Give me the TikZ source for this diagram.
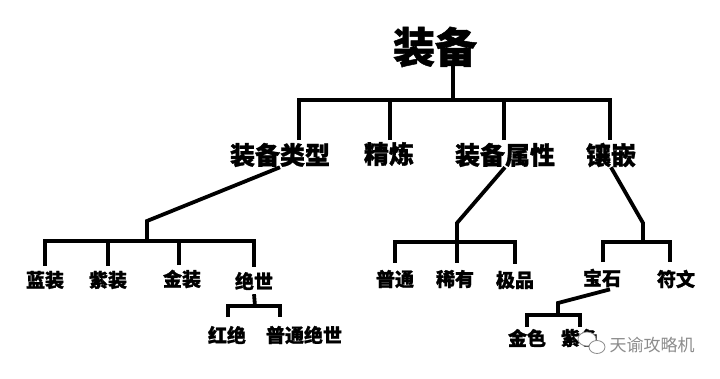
\documentclass[tikz,border=0pt]{standalone}
\usepackage{fontspec}
\newfontfamily\cjk{Noto Sans CJK SC}[BoldFeatures={FakeBold=1.2}]
\tikzset{
  ln/.style={line width=3.8pt, line join=miter},
  lone/.style={inner sep=0pt, font=\cjk\bfseries\fontsize{42}{42}\selectfont},
  ltwo/.style={inner sep=0pt, font=\cjk\bfseries\fontsize{25}{25}\selectfont},
  lthree/.style={inner sep=0pt, font=\cjk\bfseries\fontsize{19}{19}\selectfont},
  wmark/.style={inner sep=0pt, text=black!45, font=\cjk\fontsize{17}{17}\selectfont},
  logo/.style={draw=black!45, fill=white, line width=0.8pt}
}
\begin{document}
\begin{tikzpicture}[x=1pt,y=-1pt]
\useasboundingbox[fill=white] (0,0) rectangle (720,378);
% nodes
\node[lone] (root) at (435,47) {装备};
\node[ltwo] (t1) at (280,155) {装备类型};
\node[ltwo] (t2) at (389,154) {精炼};
\node[ltwo] (t3) at (505,155) {装备属性};
\node[ltwo] (t4) at (611,155) {镶嵌};
\node[lthree] (a1) at (45,280) {蓝装};
\node[lthree] (a2) at (108,280) {紫装};
\node[lthree] (a3) at (182,279) {金装};
\node[lthree] (a4) at (254,281) {绝世};
\node[lthree] (b1) at (227,335) {红绝};
\node[lthree] (b2) at (304,335) {普通绝世};
\node[lthree] (c1) at (395,279) {普通};
\node[lthree] (c2) at (455,279) {稀有};
\node[lthree] (c3) at (515,280) {极品};
\node[lthree] (d1) at (602,278) {宝石};
\node[lthree] (d2) at (676,279) {符文};
\node[lthree] (e1) at (527,338) {金色};
\node[lthree] (e2) at (580,338) {紫色};
% junction coordinates
\coordinate (j0) at (453,100);
\coordinate (p1) at (299,140);
\coordinate (p2) at (390,140);
\coordinate (p3) at (504,140);
\coordinate (p4) at (610,140);
\coordinate (ka) at (147,221);
\coordinate (kb) at (147,241);
\coordinate (q3) at (179,265);
\coordinate (kc) at (255,306);
\coordinate (r1) at (228,317);
\coordinate (r2) at (280,317);
\coordinate (kd) at (457,223);
\coordinate (ke) at (457,242);
\coordinate (kf) at (643,223);
\coordinate (kg) at (643,242);
\coordinate (s1) at (603,262);
\coordinate (s2) at (670,262);
\coordinate (kh) at (558,303);
\coordinate (ki) at (558,315);
% level 1
\draw[ln] ([yshift=3pt]root.south -| j0) -- (j0);
\draw[ln] (p1) -- (p1 |- j0) -- (p4 |- j0) -- (p4);
\draw[ln] (p2) -- (p2 |- j0);
\draw[ln] (p3) -- (p3 |- j0);
% equipment type
\draw[ln] (t1.south) -- (ka) -- (kb);
\draw[ln] ([yshift=5pt]a1.north) -- (a1.north |- kb) -- (a4.north |- kb) -- ([yshift=5pt]a4.north);
\draw[ln] ([yshift=5pt]a2.north) -- (a2.north |- kb);
\draw[ln] (q3) -- (q3 |- kb);
% jueshi
\draw[ln] ([yshift=-4pt]a4.south) -- (kc);
\draw[ln] (r1) -- (r1 |- kc) -- (r2 |- kc) -- (r2);
% attributes
\draw[ln] (t3.south) -- (kd) -- (ke);
\draw[ln] ([yshift=7pt]c1.north) -- (c1.north |- ke) -- (c3.north |- ke) -- ([yshift=7pt]c3.north);
\draw[ln] ([yshift=7pt]c2.north -| ke) -- (ke);
% inlay
\draw[ln] (t4.south) -- (kf) -- (kg);
\draw[ln] (s1) -- (s1 |- kg) -- (s2 |- kg) -- (s2);
% gems
\draw[ln] ([xshift=8pt,yshift=-2pt]d1.south) -- (kh) -- (ki);
\draw[ln] ([yshift=2pt]e1.north) -- (e1.north |- ki) -- (e2.north |- ki) -- ([yshift=2pt]e2.north);
% watermark
\draw[logo] (587,339) ellipse [x radius=9, y radius=7];
\draw[logo] (597,347) ellipse [x radius=8, y radius=6.5];
\node[wmark] (wm) at (652,345) {天谕攻略机};
\end{tikzpicture}
\end{document}
